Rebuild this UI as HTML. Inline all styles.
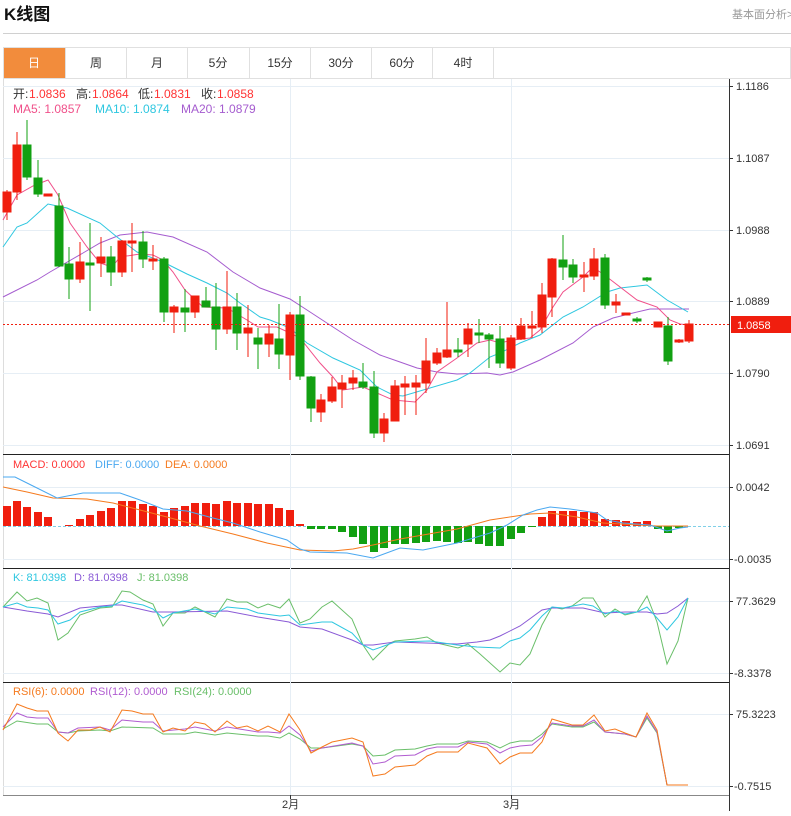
<!DOCTYPE html>
<html><head><meta charset="utf-8"><style>
body{margin:0;background:#fff;width:791px;height:811px;overflow:hidden;font-family:"Liberation Sans","Noto Sans CJK SC",sans-serif}
svg text{font-family:"Liberation Sans","Noto Sans CJK SC",sans-serif}
</style></head><body>
<svg width="791" height="811" viewBox="0 0 791 811" xmlns="http://www.w3.org/2000/svg">
<text x="4" y="20" font-size="17" font-weight="bold" fill="#111">K线图</text>
<text x="732" y="18" font-size="11" fill="#999">基本面分析&gt;</text>
<line x1="3" y1="33.5" x2="791" y2="33.5" stroke="#d0d0d0"/>
<!-- tabs -->
<rect x="3.5" y="47.5" width="787" height="31" fill="#fff" stroke="#e0e0e0"/>
<rect x="4" y="48" width="61" height="30" fill="#f28c3c"/>
<g stroke="#e0e0e0"><line x1="65.5" y1="47" x2="65.5" y2="78"/><line x1="126.5" y1="47" x2="126.5" y2="78"/><line x1="187.5" y1="47" x2="187.5" y2="78"/><line x1="249.5" y1="47" x2="249.5" y2="78"/><line x1="310.5" y1="47" x2="310.5" y2="78"/><line x1="371.5" y1="47" x2="371.5" y2="78"/><line x1="432.5" y1="47" x2="432.5" y2="78"/><line x1="493.5" y1="47" x2="493.5" y2="78"/></g>
<g font-size="12" fill="#333" text-anchor="middle"><text x="34" y="67" fill="#fff">日</text><text x="96" y="67">周</text><text x="157" y="67">月</text><text x="218" y="67">5分</text><text x="280" y="67">15分</text><text x="341" y="67">30分</text><text x="402" y="67">60分</text><text x="463" y="67">4时</text></g>
<!-- frame -->
<line x1="3.5" y1="79" x2="3.5" y2="795" stroke="#ddd"/>
<line x1="729.5" y1="79" x2="729.5" y2="811" stroke="#333"/>
<line x1="3" y1="454.5" x2="729" y2="454.5" stroke="#222"/>
<line x1="3" y1="568.5" x2="729" y2="568.5" stroke="#222"/>
<line x1="3" y1="682.5" x2="729" y2="682.5" stroke="#222"/>
<line x1="3" y1="795.5" x2="729" y2="795.5" stroke="#888"/>
<!-- grid -->
<g stroke="#e6eef5"><line x1="3" y1="86.5" x2="729" y2="86.5"/><line x1="3" y1="158.5" x2="729" y2="158.5"/><line x1="3" y1="230.5" x2="729" y2="230.5"/><line x1="3" y1="301.5" x2="729" y2="301.5"/><line x1="3" y1="373.5" x2="729" y2="373.5"/><line x1="3" y1="445.5" x2="729" y2="445.5"/>
<line x1="3" y1="487.5" x2="729" y2="487.5"/><line x1="3" y1="559.5" x2="729" y2="559.5"/><line x1="3" y1="601.5" x2="729" y2="601.5"/><line x1="3" y1="673.5" x2="729" y2="673.5"/><line x1="3" y1="714.5" x2="729" y2="714.5"/><line x1="3" y1="786.5" x2="729" y2="786.5"/>
<line x1="290.5" y1="79" x2="290.5" y2="795"/><line x1="511.5" y1="79" x2="511.5" y2="795"/></g>
<!-- axis labels -->
<g font-size="11" fill="#333"><text x="736" y="90">1.1186</text><text x="736" y="162">1.1087</text><text x="736" y="234">1.0988</text><text x="736" y="305">1.0889</text><text x="736" y="377">1.0790</text><text x="736" y="449">1.0691</text>
<text x="736" y="491">0.0042</text><text x="734" y="563">-0.0035</text><text x="736" y="605">77.3629</text><text x="734" y="677">-8.3378</text><text x="736" y="718">75.3223</text><text x="734" y="790">-0.7515</text>
<text x="282" y="808">2月</text><text x="503" y="808">3月</text></g>
<g stroke="#333"><line x1="729" y1="86.5" x2="733" y2="86.5"/><line x1="729" y1="158.5" x2="733" y2="158.5"/><line x1="729" y1="230.5" x2="733" y2="230.5"/><line x1="729" y1="301.5" x2="733" y2="301.5"/><line x1="729" y1="373.5" x2="733" y2="373.5"/><line x1="729" y1="445.5" x2="733" y2="445.5"/><line x1="729" y1="487.5" x2="733" y2="487.5"/><line x1="729" y1="559.5" x2="733" y2="559.5"/><line x1="729" y1="601.5" x2="733" y2="601.5"/><line x1="729" y1="673.5" x2="733" y2="673.5"/><line x1="729" y1="714.5" x2="733" y2="714.5"/><line x1="729" y1="786.5" x2="733" y2="786.5"/><line x1="290.5" y1="795" x2="290.5" y2="799"/><line x1="511.5" y1="795" x2="511.5" y2="799"/></g>
<!-- legends -->
<g font-size="12">
<text x="13" y="98" fill="#333">开:</text><text x="29" y="98" fill="#f33">1.0836</text>
<text x="76" y="98" fill="#333">高:</text><text x="92" y="98" fill="#f33">1.0864</text>
<text x="138" y="98" fill="#333">低:</text><text x="154" y="98" fill="#f33">1.0831</text>
<text x="201" y="98" fill="#333">收:</text><text x="217" y="98" fill="#f33">1.0858</text>
<text x="13" y="113" fill="#f0508a">MA5: 1.0857</text><text x="95" y="113" fill="#2ec7e0">MA10: 1.0874</text><text x="181" y="113" fill="#a55ccf">MA20: 1.0879</text></g>
<g font-size="11">
<text x="13" y="468" fill="#f33">MACD: 0.0000</text><text x="95" y="468" fill="#4aa8f0">DIFF: 0.0000</text><text x="165" y="468" fill="#f57a1e">DEA: 0.0000</text>
<text x="13" y="581" fill="#2ec7e0">K: 81.0398</text><text x="74" y="581" fill="#8a5ad6">D: 81.0398</text><text x="137" y="581" fill="#6abf6a">J: 81.0398</text>
<text x="13" y="695" fill="#f57a1e">RSI(6): 0.0000</text><text x="90" y="695" fill="#b05cd0">RSI(12): 0.0000</text><text x="174" y="695" fill="#6abf6a">RSI(24): 0.0000</text></g>
<!-- MA lines -->
<g fill="none" stroke-width="1">
<polyline stroke="#a55ccf" points="3,297 37,280 50,272 83,253 100,243 120,235 147,232 173,237 207,252 233,272 260,288 290,299 307,310 333,327 353,340 380,355 400,362 417,368 437,372 457,374 487,373 500,375 513,372 540,360 573,343 593,327 613,318 633,313 650,309 689,309"/>
<polyline stroke="#2ec7e0" points="3,247 17,227 27,223 48,204 67,208 100,223 117,237 137,252 163,262 187,274 207,283 227,293 240,303 260,317 270,320 290,328 307,343 333,358 360,370 377,387 393,395 403,396 457,380 470,373 490,357 500,353 520,343 540,335 563,317 583,307 607,292 620,288 647,285 667,300 688,312"/>
<polyline stroke="#f0508a" points="3,220 17,195 33,186 48,180 58,195 70,223 87,247 100,263 112,267 120,257 140,254 153,255 163,260 173,272 185,290 203,307 227,308 247,320 258,327 277,327 290,333 300,338 320,363 333,377 343,390 363,387 377,393 393,400 415,402 427,390 437,372 457,358 477,343 490,340 500,343 513,340 530,338 540,330 553,307 563,292 583,277 593,267 607,277 637,300 657,307 670,320 680,324 689,325"/>
</g>
<!-- candles -->
<g stroke-width="1">
<g stroke="#f01e0e" fill="#f01e0e">
<line x1="7" y1="190" x2="7" y2="220"/><rect x="3" y="192" width="8" height="20"/>
<line x1="17" y1="132" x2="17" y2="200"/><rect x="13" y="145" width="8" height="47"/>
<line x1="48" y1="194" x2="48" y2="196"/><rect x="44" y="194" width="8" height="2"/>
<line x1="80" y1="242" x2="80" y2="283"/><rect x="76" y="262" width="8" height="17"/>
<line x1="101" y1="237" x2="101" y2="277"/><rect x="97" y="257" width="8" height="6"/>
<line x1="122" y1="240" x2="122" y2="277"/><rect x="118" y="241" width="8" height="31"/>
<line x1="132" y1="223" x2="132" y2="272"/><rect x="128" y="241" width="8" height="2"/>
<line x1="153" y1="245" x2="153" y2="270"/><rect x="149" y="259" width="8" height="2"/>
<line x1="174" y1="305" x2="174" y2="333"/><rect x="170" y="307" width="8" height="5"/>
<line x1="195" y1="296" x2="195" y2="318"/><rect x="191" y="296" width="8" height="16"/>
<line x1="227" y1="271" x2="227" y2="334"/><rect x="223" y="307" width="8" height="22"/>
<line x1="248" y1="305" x2="248" y2="357"/><rect x="244" y="328" width="8" height="5"/>
<line x1="269" y1="325" x2="269" y2="357"/><rect x="265" y="334" width="8" height="10"/>
<line x1="290" y1="312" x2="290" y2="380"/><rect x="286" y="315" width="8" height="40"/>
<line x1="321" y1="394" x2="321" y2="422"/><rect x="317" y="400" width="8" height="12"/>
<line x1="332" y1="377" x2="332" y2="403"/><rect x="328" y="387" width="8" height="14"/>
<line x1="342" y1="375" x2="342" y2="408"/><rect x="338" y="383" width="8" height="6"/>
<line x1="353" y1="370" x2="353" y2="390"/><rect x="349" y="378" width="8" height="5"/>
<line x1="384" y1="413" x2="384" y2="442"/><rect x="380" y="419" width="8" height="14"/>
<line x1="395" y1="380" x2="395" y2="421"/><rect x="391" y="386" width="8" height="35"/>
<line x1="405" y1="376" x2="405" y2="415"/><rect x="401" y="384" width="8" height="3"/>
<line x1="416" y1="375" x2="416" y2="415"/><rect x="412" y="383" width="8" height="4"/>
<line x1="426" y1="338" x2="426" y2="393"/><rect x="422" y="361" width="8" height="22"/>
<line x1="437" y1="348" x2="437" y2="365"/><rect x="433" y="353" width="8" height="10"/>
<line x1="447" y1="302" x2="447" y2="358"/><rect x="443" y="350" width="8" height="7"/>
<line x1="468" y1="323" x2="468" y2="357"/><rect x="464" y="329" width="8" height="15"/>
<line x1="511" y1="335" x2="511" y2="370"/><rect x="507" y="338" width="8" height="30"/>
<line x1="521" y1="318" x2="521" y2="340"/><rect x="517" y="326" width="8" height="13"/>
<line x1="532" y1="311" x2="532" y2="338"/><rect x="528" y="326" width="8" height="2"/>
<line x1="542" y1="283" x2="542" y2="333"/><rect x="538" y="295" width="8" height="32"/>
<line x1="552" y1="258" x2="552" y2="317"/><rect x="548" y="259" width="8" height="38"/>
<line x1="584" y1="262" x2="584" y2="292"/><rect x="580" y="275" width="8" height="2"/>
<line x1="594" y1="248" x2="594" y2="280"/><rect x="590" y="259" width="8" height="17"/>
<line x1="616" y1="294" x2="616" y2="313"/><rect x="612" y="302" width="8" height="3"/>
<rect x="622" y="313" width="8" height="2"/>
<rect x="654" y="322" width="8" height="5"/>
<line x1="679" y1="339" x2="679" y2="343"/><rect x="675" y="340" width="8" height="2"/>
<line x1="689" y1="320" x2="689" y2="343"/><rect x="685" y="324" width="8" height="17"/>
</g>
<g stroke="#12a012" fill="#12a012">
<line x1="27" y1="120" x2="27" y2="180"/><rect x="23" y="145" width="8" height="32"/>
<line x1="38" y1="160" x2="38" y2="197"/><rect x="34" y="178" width="8" height="16"/>
<line x1="59" y1="193" x2="59" y2="267"/><rect x="55" y="206" width="8" height="60"/>
<line x1="69" y1="247" x2="69" y2="299"/><rect x="65" y="264" width="8" height="15"/>
<line x1="90" y1="223" x2="90" y2="311"/><rect x="86" y="263" width="8" height="2"/>
<line x1="111" y1="246" x2="111" y2="286"/><rect x="107" y="257" width="8" height="15"/>
<line x1="143" y1="231" x2="143" y2="268"/><rect x="139" y="242" width="8" height="17"/>
<line x1="164" y1="257" x2="164" y2="322"/><rect x="160" y="259" width="8" height="53"/>
<line x1="185" y1="289" x2="185" y2="332"/><rect x="181" y="308" width="8" height="4"/>
<line x1="206" y1="287" x2="206" y2="307"/><rect x="202" y="301" width="8" height="6"/>
<line x1="216" y1="283" x2="216" y2="350"/><rect x="212" y="307" width="8" height="22"/>
<line x1="237" y1="293" x2="237" y2="350"/><rect x="233" y="307" width="8" height="26"/>
<line x1="258" y1="328" x2="258" y2="369"/><rect x="254" y="338" width="8" height="6"/>
<line x1="279" y1="304" x2="279" y2="369"/><rect x="275" y="339" width="8" height="15"/>
<line x1="300" y1="296" x2="300" y2="380"/><rect x="296" y="315" width="8" height="61"/>
<line x1="311" y1="376" x2="311" y2="422"/><rect x="307" y="377" width="8" height="31"/>
<line x1="363" y1="363" x2="363" y2="389"/><rect x="359" y="382" width="8" height="5"/>
<line x1="374" y1="371" x2="374" y2="438"/><rect x="370" y="387" width="8" height="46"/>
<line x1="458" y1="338" x2="458" y2="357"/><rect x="454" y="350" width="8" height="2"/>
<line x1="479" y1="319" x2="479" y2="343"/><rect x="475" y="333" width="8" height="2"/>
<line x1="489" y1="333" x2="489" y2="368"/><rect x="485" y="335" width="8" height="4"/>
<line x1="500" y1="326" x2="500" y2="368"/><rect x="496" y="339" width="8" height="24"/>
<line x1="563" y1="235" x2="563" y2="280"/><rect x="559" y="260" width="8" height="7"/>
<line x1="573" y1="259" x2="573" y2="283"/><rect x="569" y="265" width="8" height="12"/>
<line x1="605" y1="254" x2="605" y2="309"/><rect x="601" y="258" width="8" height="47"/>
<line x1="637" y1="317" x2="637" y2="323"/><rect x="633" y="319" width="8" height="2"/>
<line x1="647" y1="277" x2="647" y2="282"/><rect x="643" y="278" width="8" height="2"/>
<line x1="668" y1="317" x2="668" y2="365"/><rect x="664" y="326" width="8" height="35"/>
</g></g>
<!-- last price -->
<line x1="3" y1="324.5" x2="729" y2="324.5" stroke="#f01e0e" stroke-dasharray="2,2"/>
<rect x="731" y="316" width="60" height="17" fill="#f01e0e"/>
<text x="737" y="329" font-size="11" fill="#fff">1.0858</text>
<!-- MACD -->
<line x1="3" y1="526.5" x2="729" y2="526.5" stroke="#7fd0e8" stroke-dasharray="3,2"/>
<g fill="#f01e0e">
<rect x="3" y="506" width="8" height="20"/><rect x="13" y="501" width="8" height="25"/><rect x="23" y="507" width="8" height="19"/><rect x="34" y="512" width="8" height="14"/><rect x="44" y="517" width="8" height="9"/><rect x="65" y="525" width="8" height="1"/><rect x="76" y="519" width="8" height="7"/><rect x="86" y="515" width="8" height="11"/><rect x="97" y="511" width="8" height="15"/><rect x="107" y="508" width="8" height="18"/><rect x="118" y="501" width="8" height="25"/><rect x="128" y="501" width="8" height="25"/><rect x="139" y="504" width="8" height="22"/><rect x="149" y="506" width="8" height="20"/><rect x="160" y="512" width="8" height="14"/><rect x="170" y="508" width="8" height="18"/><rect x="181" y="506" width="8" height="20"/><rect x="191" y="503" width="8" height="23"/><rect x="202" y="503" width="8" height="23"/><rect x="212" y="504" width="8" height="22"/><rect x="223" y="501" width="8" height="25"/><rect x="233" y="503" width="8" height="23"/><rect x="244" y="503" width="8" height="23"/><rect x="254" y="504" width="8" height="22"/><rect x="265" y="504" width="8" height="22"/><rect x="275" y="508" width="8" height="18"/><rect x="286" y="510" width="8" height="16"/><rect x="296" y="524" width="8" height="2"/>
<rect x="538" y="517" width="8" height="9"/><rect x="548" y="511" width="8" height="15"/><rect x="559" y="511" width="8" height="15"/><rect x="569" y="511" width="8" height="15"/><rect x="580" y="512" width="8" height="14"/><rect x="590" y="512" width="8" height="14"/><rect x="601" y="519" width="8" height="7"/><rect x="612" y="520" width="8" height="6"/><rect x="622" y="521" width="8" height="5"/><rect x="633" y="522" width="8" height="4"/><rect x="643" y="521" width="8" height="5"/></g>
<g fill="#12a012">
<rect x="307" y="526" width="8" height="3"/><rect x="317" y="526" width="8" height="3"/><rect x="328" y="526" width="8" height="3"/><rect x="338" y="526" width="8" height="6"/><rect x="349" y="526" width="8" height="11"/><rect x="359" y="526" width="8" height="18"/><rect x="370" y="526" width="8" height="26"/><rect x="380" y="526" width="8" height="22"/><rect x="391" y="526" width="8" height="18"/><rect x="401" y="526" width="8" height="18"/><rect x="412" y="526" width="8" height="17"/><rect x="422" y="526" width="8" height="16"/><rect x="433" y="526" width="8" height="15"/><rect x="443" y="526" width="8" height="16"/><rect x="454" y="526" width="8" height="17"/><rect x="464" y="526" width="8" height="16"/><rect x="475" y="526" width="8" height="18"/><rect x="485" y="526" width="8" height="20"/><rect x="496" y="526" width="8" height="20"/><rect x="507" y="526" width="8" height="13"/><rect x="517" y="526" width="8" height="7"/><rect x="528" y="526" width="8" height="1"/><rect x="654" y="526" width="8" height="3"/><rect x="664" y="526" width="8" height="7"/><rect x="675" y="526" width="8" height="2"/></g>
<g fill="none">
<polyline stroke="#f57a1e" points="3,487 27,492 53,498 87,499 113,503 140,510 167,517 200,526 233,534 267,543 300,550 333,551 353,549 373,545 400,539 423,535 457,529 490,520 530,514 550,513 577,517 603,523 657,526 688,526"/>
<polyline stroke="#4aa8f0" points="3,477 15,477 27,483 57,498 83,493 120,493 140,500 163,509 187,511 213,518 233,523 260,532 287,540 300,549 310,552 347,553 373,558 400,548 423,550 457,543 490,533 507,525 523,515 537,510 550,507 570,509 597,513 607,520 623,523 650,525 667,531 680,528 688,527"/>
</g>
<!-- KDJ -->
<g fill="none">
<polyline stroke="#6abf6a" points="3,607 17,592 27,601 37,598 48,603 58,640 68,633 80,615 100,608 112,607 122,591 130,592 143,600 153,604 163,626 173,613 185,613 195,607 205,612 215,617 227,599 237,602 247,602 258,608 268,604 280,608 289,599 300,623 310,619 322,607 332,601 352,619 363,645 373,660 390,643 395,641 415,639 427,637 437,643 458,648 468,644 480,654 500,672 510,663 520,665 530,654 542,625 552,607 562,609 572,606 583,598 593,598 605,617 615,609 625,615 637,612 647,596 657,622 667,664 678,641 688,598"/>
<polyline stroke="#8a5ad6" points="3,607 27,611 48,614 58,617 80,608 112,605 122,605 153,612 173,612 227,611 258,617 289,622 300,627 322,629 352,640 363,645 373,645 395,642 457,644 477,642 490,640 500,636 520,626 542,610 552,608 583,608 605,613 625,612 647,612 657,614 667,613 678,606 688,598"/>
<polyline stroke="#2ec7e0" points="3,607 17,603 27,607 38,608 48,610 58,624 70,620 80,612 100,607 112,606 122,601 143,605 153,609 163,618 173,613 195,609 215,614 227,607 247,609 258,613 280,616 289,615 300,625 322,622 332,622 352,633 363,645 373,650 395,642 430,641 457,645 477,647 500,648 510,641 520,638 530,630 542,616 552,607 563,608 583,604 593,606 605,614 615,611 625,614 637,612 647,607 657,618 667,630 678,617 688,598"/>
</g>
<!-- RSI -->
<g fill="none">
<polyline stroke="#6abf6a" points="3,729 17,721 37,724 48,724 58,732 68,733 78,731 100,730 110,731 122,727 153,728 163,734 185,734 195,732 215,735 227,733 258,736 268,736 280,738 289,733 300,739 311,748 322,748 352,744 363,746 373,756 385,755 395,750 415,749 427,746 437,744 458,744 468,741 487,742 500,748 510,743 520,741 532,741 542,734 552,724 572,727 583,727 594,722 605,732 625,734 636,737 647,718 657,733 667,785 688,785"/>
<polyline stroke="#b05cd0" points="3,727 17,713 27,717 37,718 48,718 58,732 68,733 78,728 100,727 110,730 122,720 143,722 153,722 163,731 185,729 195,727 215,731 227,727 258,732 268,732 280,733 289,726 300,735 311,751 322,748 352,743 363,746 373,764 385,762 395,756 415,755 427,749 437,747 458,747 468,742 487,744 500,753 510,748 520,746 532,745 542,737 552,723 572,726 583,726 594,720 605,732 625,734 636,737 647,716 657,732 667,785 688,785"/>
<polyline stroke="#f57a1e" points="3,730 17,704 27,708 37,711 48,711 58,733 68,741 78,730 90,730 100,727 110,732 122,710 132,711 143,714 153,714 163,732 173,728 185,731 195,722 205,724 215,732 227,721 237,728 247,726 258,731 268,726 280,732 289,714 300,730 311,753 322,747 332,742 352,738 363,742 373,776 385,774 395,767 415,765 427,756 437,752 458,752 468,743 487,748 500,764 510,757 520,753 532,753 542,742 552,719 562,722 572,725 583,725 594,715 605,731 615,729 625,733 636,737 647,713 657,730 667,785 688,785"/>
</g>
</svg>
</body></html>
